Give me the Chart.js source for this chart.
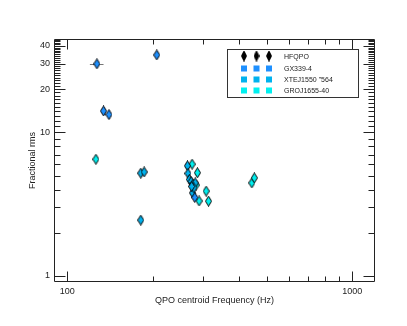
<!DOCTYPE html>
<html><head><meta charset="utf-8">
<script src="https://cdn.jsdelivr.net/npm/chart.js@4"></script>
<style>html,body{margin:0;padding:0;background:#fff}#c{display:block}</style>
</head><body>
<canvas id="c" width="407" height="326"></canvas>
<script>
// ---- data ----
const seriesNames = ['GX339-4', 'XTEJ1550 "564', 'GROJ1655-40'];
const legendTitle = 'HFQPO';

const gxFreq    = [127, 206, 134, 140, 280];
const gxRms     = [30.0, 34.6, 14.1, 13.3, 3.52];
const gxFreqErr = [7, 2, 2, 2, 3];
const gxRmsErr  = [1.2, 1.6, 0.8, 0.8, 0.15];

const xteFreq    = [181, 186, 181, 264, 265, 268, 272, 276, 281, 275, 278, 273];
const xteRms     = [5.20, 5.30, 2.45, 5.85, 5.18, 4.70, 4.55, 4.35, 4.45, 3.79, 4.10, 4.20];
const xteFreqErr = [3, 3, 2, 5, 3, 3, 3, 3, 3, 3, 3, 3];
const xteRmsErr  = [0.2, 0.2, 0.12, 0.25, 0.2, 0.2, 0.2, 0.2, 0.2, 0.15, 0.2, 0.2];

const groFreq    = [126, 274, 286, 290, 307, 313, 444, 453, 283];
const groRms     = [6.50, 6.01, 5.23, 3.33, 3.90, 3.32, 4.45, 4.82, 4.30];
const groFreqErr = [2, 3, 5, 3, 3, 5, 3, 3, 3];
const groRmsErr  = [0.3, 0.3, 0.25, 0.15, 0.2, 0.15, 0.2, 0.2, 0.2];

const xTickValues = [100, 1000];
const yTickValues = [1, 10, 20, 30, 40];
const xMinorTicks = [200, 300, 400, 500, 600, 700, 800, 900];
const yMinorTicks = [2,3,4,5,6,7,8,9,11,12,13,14,15,16,17,18,19,21,22,23,24,25,26,27,28,29,31,32,33,34,35,36,37,38,39,41,42,43,44];
const xRange = [89.8, 1201];
const yRange = [0.908, 44.7];

const seriesColors = ['#1E90FF', '#00B2EE', '#00F0F0'];

// ---- helpers ----
function makeDiamond(fill, w, h) {
  const c = document.createElement('canvas');
  c.width = w; c.height = h;
  const g = c.getContext('2d');
  g.beginPath();
  g.moveTo(w/2, 0.5); g.lineTo(w-0.5, h/2); g.lineTo(w/2, h-0.5); g.lineTo(0.5, h/2); g.closePath();
  g.fillStyle = fill; g.fill();
  g.strokeStyle = '#000'; g.lineWidth = 1; g.stroke();
  return c;
}
function pts(xs, ys, xe, ye) {
  return xs.map((x, i) => ({x: x, y: ys[i], xe: xe[i], ye: ye[i]}));
}

const datasets = [
  {label: seriesNames[0], data: pts(gxFreq, gxRms, gxFreqErr, gxRmsErr)},
  {label: seriesNames[1], data: pts(xteFreq, xteRms, xteFreqErr, xteRmsErr)},
  {label: seriesNames[2], data: pts(groFreq, groRms, groFreqErr, groRmsErr)}
].map((d, i) => Object.assign(d, {
  pointStyle: makeDiamond(seriesColors[i], 7, 11),
  pointRadius: 5, pointHoverRadius: 5, showLine: false,
  backgroundColor: seriesColors[i], borderColor: '#000'
}));

const errorBars = {
  id: 'errorBars',
  beforeDatasetsDraw(chart) {
    const {ctx, scales: {x, y}} = chart;
    ctx.save();
    ctx.strokeStyle = '#777'; ctx.lineWidth = 1;
    chart.data.datasets.forEach(ds => ds.data.forEach(p => {
      const px = x.getPixelForValue(p.x), py = y.getPixelForValue(p.y);
      ctx.beginPath();
      ctx.moveTo(x.getPixelForValue(p.x - p.xe), Math.round(py) + 0.5);
      ctx.lineTo(x.getPixelForValue(p.x + p.xe), Math.round(py) + 0.5);
      ctx.moveTo(Math.round(px) + 0.5, y.getPixelForValue(p.y - p.ye));
      ctx.lineTo(Math.round(px) + 0.5, y.getPixelForValue(p.y + p.ye));
      ctx.stroke();
    }));
    ctx.restore();
  }
};

const frameTicks = {
  id: 'frameTicks',
  afterDatasetsDraw(chart) {
    const {ctx, chartArea: a, scales: {x, y}} = chart;
    ctx.save();
    ctx.strokeStyle = '#222'; ctx.lineWidth = 1;
    const L = Math.round(a.left) + 0.5, R = Math.round(a.right) - 0.5;
    const T = Math.round(a.top) + 0.5, B = Math.round(a.bottom) - 0.5;
    ctx.beginPath();
    ctx.rect(L, T, R - L, B - T);
    ctx.stroke();
    ctx.beginPath();
    const yt = (v, len) => {
      const py = Math.round(y.getPixelForValue(v)) + 0.5;
      ctx.moveTo(L, py); ctx.lineTo(L + len, py);
      ctx.moveTo(R, py); ctx.lineTo(R - len, py);
    };
    const xt = (v, len) => {
      const px = Math.round(x.getPixelForValue(v)) + 0.5;
      ctx.moveTo(px, B); ctx.lineTo(px, B - len);
      ctx.moveTo(px, T); ctx.lineTo(px, T + len);
    };
    yTickValues.forEach(v => yt(v, 11));
    yMinorTicks.forEach(v => yt(v, 6));
    xTickValues.forEach(v => xt(v, 10));
    xMinorTicks.forEach(v => xt(v, 5));
    ctx.stroke();
    ctx.restore();
  }
};

const boxLegend = {
  id: 'boxLegend',
  afterDraw(chart) {
    const {ctx} = chart;
    ctx.save();
    ctx.strokeStyle = '#333'; ctx.lineWidth = 1;
    ctx.strokeRect(227.5, 49.5, 131, 48);
    ctx.font = '7px "Liberation Sans", Arial, sans-serif';
    ctx.fillStyle = '#222';
    ctx.textBaseline = 'middle';
    const sx = [244, 256.5, 269];
    const black = makeDiamond('#000', 6, 11);
    sx.forEach(cx => ctx.drawImage(black, cx - 3, 56 - 5.5));
    ctx.fillText(legendTitle, 284, 57);
    const rows = [68.5, 79.5, 90.5];
    chart.data.datasets.forEach((ds, i) => {
      ctx.fillStyle = seriesColors[i];
      sx.forEach(cx => ctx.fillRect(cx - 3, rows[i] - 3, 6, 6));
      ctx.fillStyle = '#222';
      ctx.fillText(ds.label, 284, rows[i] + 0.5);
    });
    ctx.restore();
  }
};

new Chart(document.getElementById('c'), {
  type: 'scatter',
  data: {datasets},
  plugins: [errorBars, frameTicks, boxLegend],
  options: {
    responsive: false, animation: false, devicePixelRatio: 1,
    layout: {padding: {top: 39, right: 32, left: 0, bottom: 0}},
    plugins: {legend: {display: false}, tooltip: {enabled: false}},
    scales: {
      x: {
        type: 'logarithmic', min: xRange[0], max: xRange[1],
        afterFit: s => { s.height = 44; },
        afterBuildTicks: s => { s.ticks = xTickValues.map(v => ({value: v})); },
        grid: {display: false, drawTicks: false},
        border: {display: false},
        ticks: {callback: v => String(v), autoSkip: false, maxRotation: 0, padding: 4,
                color: '#222', font: {size: 9, family: '"Liberation Sans", Arial, sans-serif'}},
        title: {display: true, text: 'QPO centroid Frequency (Hz)', color: '#222',
                padding: {top: 19.6, bottom: 19.6},
                font: {size: 9, family: '"Liberation Sans", Arial, sans-serif'}}
      },
      y: {
        type: 'logarithmic', min: yRange[0], max: yRange[1],
        afterFit: s => { s.width = 54; },
        afterBuildTicks: s => { s.ticks = yTickValues.map(v => ({value: v})); },
        grid: {display: false, drawTicks: false},
        border: {display: false},
        ticks: {callback: v => String(v), autoSkip: false, padding: 4,
                color: '#222', font: {size: 9, family: '"Liberation Sans", Arial, sans-serif'}},
        title: {display: true, text: 'Fractional rms', color: '#222',
                padding: {top: 27.6, bottom: 27.6},
                font: {size: 9, family: '"Liberation Sans", Arial, sans-serif'}}
      }
    }
  }
});
</script>
</body></html>
